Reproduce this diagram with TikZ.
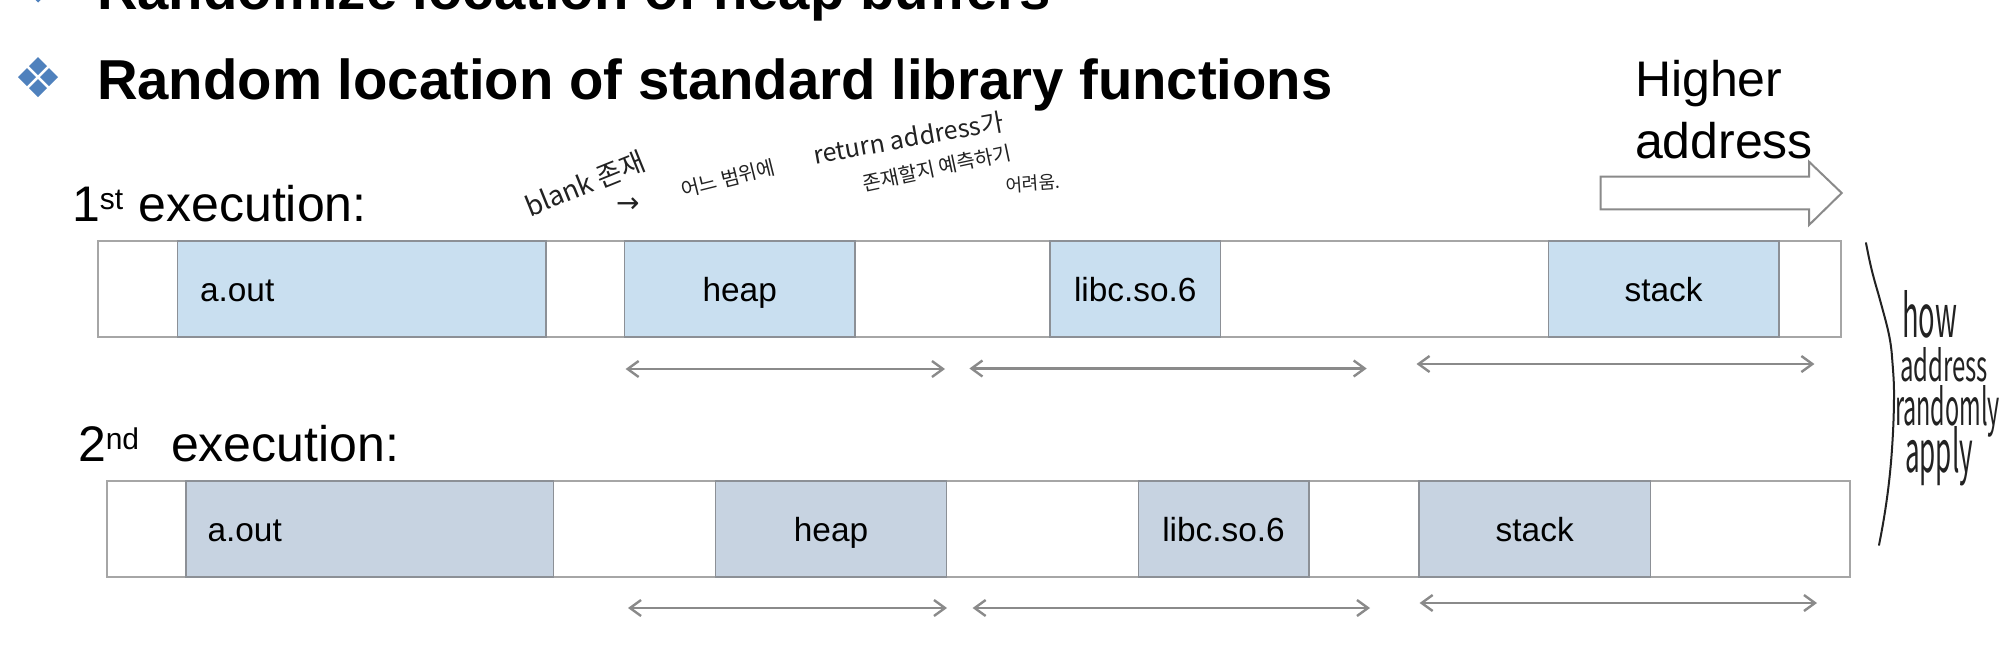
\documentclass[tikz,border=0pt]{standalone}
\usepackage{fontspec}
\setmainfont{Liberation Sans}
\newfontfamily\hand{Noto Sans CJK KR}
\newfontfamily\handsym{DejaVu Sans}
\usetikzlibrary{arrows.meta}
\definecolor{fillA}{HTML}{C9DFF0}
\definecolor{fillB}{HTML}{C7D3E1}
\definecolor{edgeBar}{HTML}{A6A6A6}
\definecolor{edgeSeg}{HTML}{8C9096}
\definecolor{arrowGray}{HTML}{8A8A8A}
\definecolor{ink}{HTML}{222222}
\definecolor{bulletBlue}{HTML}{4F81BD}
\newcommand{\fs}[1]{\fontsize{#1}{#1}\selectfont}
\tikzset{
  x=0.5pt,y=-0.5pt,
  txt/.style={inner sep=0pt,outer sep=0pt,anchor=base west,text=black},
  boxlabel/.style={inner sep=0pt,outer sep=0pt,anchor=base,font=\fs{16.7}},
  boxlabelw/.style={boxlabel,anchor=base west},
  barbox/.style={draw=edgeBar,line width=1pt,fill=white,inner sep=0pt,minimum height=48pt},
  segA/.style={draw=edgeSeg,line width=0.8pt,fill=fillA,inner sep=0pt,minimum height=48pt},
  segB/.style={draw=edgeSeg,line width=0.8pt,fill=fillB,inner sep=0pt,minimum height=48pt},
  span/.style={draw=arrowGray,line width=1.2pt,{Straight Barb[length=5.5pt,width=8pt]}-{Straight Barb[length=5.5pt,width=8pt]}},
  handw/.style={inner sep=0pt,outer sep=0pt,anchor=base west,text=ink,font=\hand},
  bul/.style={fill=bulletBlue,draw=none},
}
\begin{document}
\begin{tikzpicture}
\useasboundingbox (0,0) rectangle (2000,669);
\fill[white] (0,0) rectangle (2000,669);
\begin{scope}
\clip (0,0) rectangle (2000,669);
% top cut-off line
\node[txt,font=\bfseries\fs{28.15}] (topline) at (97,10) {Randomize location of heap buffers};
\foreach \cx/\cy in {38/-17.5,38/77}{
  \foreach \dx/\dy in {0/-11,-11/0,11/0,0/11}{
    \fill[bul] (\cx+\dx-9,\cy+\dy) -- (\cx+\dx,\cy+\dy-9) -- (\cx+\dx+9,\cy+\dy) -- (\cx+\dx,\cy+\dy+9) -- cycle;
  }
}
\node[txt,font=\bfseries\fs{28.15}] (title) at (97,99) {Random location of standard library functions};
% Higher address
\node[txt,font=\fs{25}] (higher) at (1635,96.7) {Higher};
\node[txt,font=\fs{25}] (address) at (1635,158) {address};
\draw[draw=arrowGray,line width=1pt,fill=white,line join=miter] (1600.7,176.7) -- (1809,176.7) -- (1809,161.7) -- (1841.7,193) -- (1809,225) -- (1809,209.3) -- (1600.7,209.3) -- cycle;
% row labels
\node[txt,font=\fs{25}] (first) at (72,221.7) {1\raisebox{6pt}{\fs{15}st}\hspace{0.8pt} execution:};
\node[txt,font=\fs{25}] (second) at (78,461.7) {2\raisebox{6pt}{\fs{15}nd}\hspace{16pt}execution:};
% row 1
\node[barbox,minimum width=871.5pt] (barA) at (969.1,289) {};
\node[segA,minimum width=184.3pt] (aoutA) at (361.6,289) {};
\node[segA,minimum width=115.3pt] (heapA) at (739.7,289) {};
\node[segA,minimum width=85.3pt] (libcA) at (1135.3,289) {};
\node[segA,minimum width=115.1pt] (stackA) at (1663.6,289) {};
\node[boxlabelw] (laoutA) at (200,301.7) {a.out};
\node[boxlabel] (lheapA) at (heapA |- 0,301.7) {heap};
\node[boxlabel] (llibcA) at (libcA |- 0,301.7) {libc.so.6};
\node[boxlabel] (lstackA) at (stackA |- 0,301.7) {stack};
% row 2
\node[barbox,minimum width=871.5pt] (barB) at (978,529) {};
\node[segB,minimum width=183.8pt] (aoutB) at (369.8,529) {};
\node[segB,minimum width=115.4pt] (heapB) at (831,529) {};
\node[segB,minimum width=85.2pt] (libcB) at (1223.5,529) {};
\node[segB,minimum width=115.7pt] (stackB) at (1534.7,529) {};
\node[boxlabelw] (laoutB) at (207.5,541) {a.out};
\node[boxlabel] (lheapB) at (heapB |- 0,541) {heap};
\node[boxlabel] (llibcB) at (libcB |- 0,541) {libc.so.6};
\node[boxlabel] (lstackB) at (stackB |- 0,541) {stack};
% span arrows
\coordinate (a1) at (625.6,369); \coordinate (a2) at (945,369);
\coordinate (a3) at (969.4,368.5); \coordinate (a4) at (1366.7,368.5);
\coordinate (a5) at (1416.5,364); \coordinate (a6) at (1814.4,364);
\coordinate (b1) at (628,608); \coordinate (b2) at (947,608);
\coordinate (b3) at (972.6,608); \coordinate (b4) at (1370,608);
\coordinate (b5) at (1419.6,603); \coordinate (b6) at (1817,603);
\draw[span] (a1) -- (a2);
\draw[span] (a3) -- (a4);
\draw[span] (a5) -- (a6);
\draw[span] (b1) -- (b2);
\draw[span] (b3) -- (b4);
\draw[span] (b5) -- (b6);
% handwriting
\node[handw,rotate=22,font=\hand\fs{13.5}] (h1) at (530,217) {blank 존재};
\node[handw,font=\handsym\fs{14}] (h2) at (616,212) {→};
\node[handw,rotate=14,font=\hand\fs{10}] (h3) at (683,197) {어느 범위에};
\node[handw,rotate=10,font=\hand\fs{12.5}] (h4) at (815,164) {return address가};
\node[handw,rotate=12,font=\hand\fs{10}] (h5) at (864,191) {존재할지 예측하기};
\node[handw,rotate=4,font=\hand\fs{9}] (h6) at (1006,192) {어려움.};
\draw[ink,line width=1pt,line cap=round] (1866,243) .. controls (1872,275) and (1876,285) .. (1880,300) .. controls (1886,322) and (1890,335) .. (1891.7,353) .. controls (1893,370) and (1894,380) .. (1894,393) .. controls (1894,415) and (1893,435) .. (1891.7,453) .. controls (1889,490) and (1884,520) .. (1879,545);
\node[handw] (r1) at (1902,337) {\resizebox{27.5pt}{23.5pt}{how}};
\node[handw] (r2) at (1900,381) {\resizebox{44pt}{17pt}{address}};
\node[handw] (r3) at (1895,425) {\resizebox{52.5pt}{20pt}{randomly}};
\node[handw] (r4) at (1905,472) {\resizebox{34pt}{23pt}{apply}};
\end{scope}
\end{tikzpicture}
\end{document}
